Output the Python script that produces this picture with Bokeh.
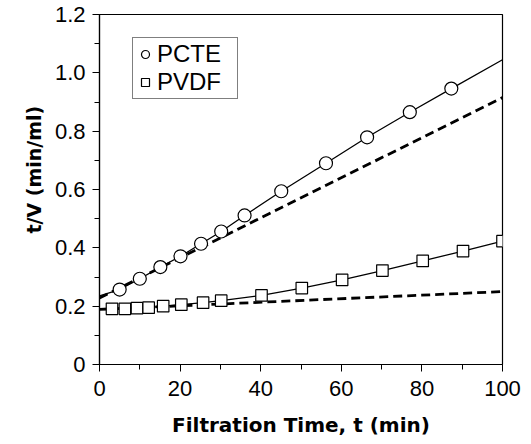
from bokeh.plotting import figure
from bokeh.models import FixedTicker, Legend, LegendItem, Range1d, Title
from bokeh.embed import file_html
from bokeh.resources import INLINE

# PCTE data
pcte_t = [5.0, 10.0, 15.1, 20.1, 25.2, 30.2, 36.0, 45.1, 56.2, 66.4, 77.0, 87.3]
pcte_v = [0.257, 0.294, 0.334, 0.371, 0.414, 0.456, 0.511, 0.594, 0.690, 0.779, 0.865, 0.946]
pcte_fit_t = [0, 5.0, 10.0, 15.1, 20.1, 25.2, 30.2, 36.0, 45.1, 56.2, 66.4, 77.0, 87.3, 100]
pcte_fit_v = [0.235, 0.257, 0.294, 0.334, 0.371, 0.414, 0.456, 0.511, 0.594, 0.690, 0.779, 0.865, 0.946, 1.045]
pcte_lin_t = [0, 100]
pcte_lin_v = [0.228, 0.915]

# PVDF data
pvdf_t = [3.1, 6.3, 9.3, 12.2, 15.8, 20.3, 25.7, 30.2, 40.2, 50.2, 60.2, 70.2, 80.2, 90.2, 100.0]
pvdf_v = [0.191, 0.191, 0.193, 0.195, 0.200, 0.205, 0.212, 0.219, 0.237, 0.262, 0.290, 0.322, 0.355, 0.389, 0.423]
pvdf_fit_t = [0] + pvdf_t
pvdf_fit_v = [0.190] + pvdf_v
pvdf_lin_t = [0, 100]
pvdf_lin_v = [0.189, 0.250]

x_ticks = [0, 20, 40, 60, 80, 100]
y_ticks = [0, 0.2, 0.4, 0.6, 0.8, 1.0, 1.2]
y_tick_labels = {0: "0", 0.2: "0.2", 0.4: "0.4", 0.6: "0.6", 0.8: "0.8", 1.0: "1.0", 1.2: "1.2"}
x_title = "Filtration Time, t (min)"
y_title = "t/V (min/ml)"

p = figure(width=531, height=444, output_backend="svg", toolbar_location=None,
           x_range=Range1d(0, 100), y_range=Range1d(0, 1.2),
           min_border_left=99, min_border_right=29, min_border_top=14, min_border_bottom=80)
p.xgrid.visible = False
p.ygrid.visible = False
p.outline_line_color = "black"
p.outline_line_width = 1.2
p.background_fill_color = "white"
p.border_fill_color = "white"

font = "Liberation Sans"
for ax in (p.xaxis[0], p.yaxis[0]):
    ax.axis_line_color = "black"
    ax.axis_line_width = 1.2
    ax.major_tick_in = 0
    ax.major_tick_out = 7
    ax.minor_tick_in = 0
    ax.minor_tick_out = 5
    ax.major_tick_line_color = "black"
    ax.minor_tick_line_color = "black"
    ax.major_label_text_font = font
    ax.major_label_text_font_size = "22px"
    ax.major_label_text_color = "black"

p.xaxis.ticker = FixedTicker(ticks=x_ticks, minor_ticks=[10, 30, 50, 70, 90])
p.yaxis.ticker = FixedTicker(ticks=y_ticks, minor_ticks=[0.1, 0.3, 0.5, 0.7, 0.9, 1.1])
p.yaxis.major_label_overrides = y_tick_labels
p.xaxis.axis_label = x_title
p.xaxis.axis_label_text_font = "DejaVu Sans"
p.xaxis.axis_label_text_font_size = "20px"
p.xaxis.axis_label_text_font_style = "bold"
p.xaxis.axis_label_text_color = "black"
p.xaxis.major_label_standoff = 9
p.xaxis.axis_label_standoff = 14
p.yaxis.major_label_standoff = 7

ytitle = Title(text=y_title, align="left", offset=131,
               text_font="DejaVu Sans", text_font_size="19px", text_font_style="bold",
               text_color="black", standoff=14)
p.add_layout(ytitle, "left")

# lines
p.line(pcte_fit_t, pcte_fit_v, line_color="black", line_width=1.3)
p.line(pcte_lin_t, pcte_lin_v, line_color="black", line_width=2.8, line_dash="9 5")
p.line(pvdf_fit_t, pvdf_fit_v, line_color="black", line_width=1.3)
p.line(pvdf_lin_t, pvdf_lin_v, line_color="black", line_width=2.8, line_dash="9 5")

c = p.scatter(pcte_t, pcte_v, marker="circle", size=13, fill_color="white",
              line_color="black", line_width=1.2)
s = p.scatter(pvdf_t, pvdf_v, marker="square", size=11.5, fill_color="white",
              line_color="black", line_width=1.2)

legend = Legend(items=[LegendItem(label="PCTE", renderers=[c]),
                       LegendItem(label="PVDF", renderers=[s])],
                location=(33, 265))
legend.border_line_color = "black"
legend.border_line_width = 1
legend.label_text_font = font
legend.label_text_font_size = "24px"
legend.label_text_color = "black"
legend.glyph_width = 20
legend.glyph_height = 20
legend.spacing = 0
legend.padding = 2
legend.margin = 0
legend.label_standoff = 2
legend.label_width = 78
legend.background_fill_alpha = 1
p.add_layout(legend)

open("out.html", "w").write(file_html(p, INLINE))
